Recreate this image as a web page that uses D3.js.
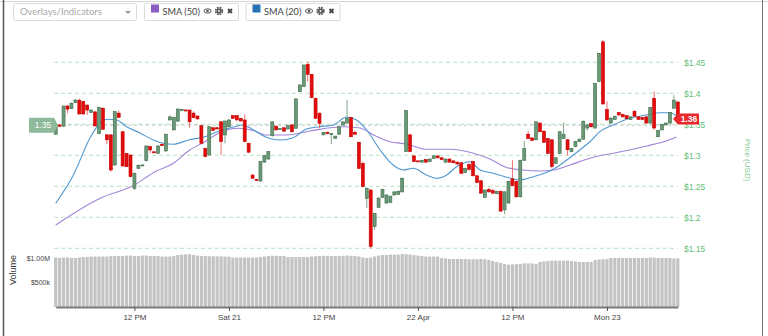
<!DOCTYPE html>
<html><head><meta charset="utf-8">
<script src="https://cdn.jsdelivr.net/npm/d3@7"></script>
<style>
body{margin:0;background:#fff;}
svg{display:block;font-family:"Liberation Sans",Arial,sans-serif;}
</style>
</head><body>
<svg id="chart" width="768" height="336"></svg>
<script>
// ---------- DATA ----------
const firstCandle = new Date(2018, 3, 20, 2, 0);   // 30-minute candles
const lastCandle  = new Date(2018, 3, 23, 9, 0);

const opens = [1.334,1.349,1.347,1.3795,1.3755,1.385,1.389,1.3865,1.381,1.369,1.370,1.335,1.376,1.333,1.333,1.2844,1.368,1.338,1.303,1.3005,
1.2468,1.279,1.283,1.2913,1.314,1.3057,1.3032,1.3178,1.307,1.357,1.341,1.355,1.372,1.3731,1.373,1.368,1.3634,1.3478,1.311,1.3005,
1.3445,1.3445,1.354,1.3328,1.346,1.364,1.364,1.3597,1.357,1.3194,1.268,1.261,1.2586,1.289,1.294,1.3317,1.347,1.342,1.3445,1.3425,
1.349,1.3436,1.4026,1.411,1.4468,1.4307,1.392,1.368,1.333,1.337,1.334,1.3275,1.334,1.3488,1.352,1.361,1.337,1.321,1.287,1.2307,
1.244,1.185,1.216,1.232,1.223,1.224,1.236,1.237,1.241,1.306,1.333,1.299,1.291,1.289,1.293,1.290,1.295,1.299,1.296,1.289,
1.294,1.291,1.289,1.288,1.272,1.285,1.290,1.267,1.259,1.232,1.245,1.243,1.238,1.242,1.212,1.223,1.262,1.258,1.233,1.292,
1.334,1.328,1.325,1.352,1.339,1.327,1.325,1.287,1.303,1.327,1.325,1.306,1.314,1.322,1.326,1.344,1.351,1.344,1.419,1.483,
1.374,1.352,1.358,1.369,1.366,1.364,1.358,1.371,1.362,1.361,1.362,1.352,1.392,1.330,1.341,1.349,1.352,1.376,1.386];
const highs = [1.350,1.350,1.380,1.381,1.385,1.391,1.391,1.388,1.382,1.374,1.371,1.378,1.377,1.334,1.334,1.371,1.372,1.339,1.304,1.301,
1.272,1.285,1.285,1.316,1.315,1.306,1.316,1.319,1.335,1.364,1.362,1.375,1.375,1.374,1.374,1.371,1.364,1.348,1.312,1.347,
1.345,1.345,1.355,1.356,1.358,1.365,1.365,1.360,1.366,1.320,1.270,1.262,1.290,1.3005,1.306,1.355,1.348,1.344,1.345,1.348,
1.350,1.392,1.414,1.446,1.451,1.431,1.393,1.369,1.337,1.338,1.336,1.331,1.346,1.354,1.389,1.362,1.340,1.322,1.290,1.248,
1.245,1.207,1.232,1.246,1.237,1.235,1.242,1.243,1.264,1.373,1.334,1.300,1.292,1.293,1.294,1.295,1.300,1.300,1.297,1.295,
1.295,1.292,1.290,1.289,1.280,1.288,1.291,1.268,1.260,1.245,1.248,1.246,1.243,1.243,1.242,1.259,1.292,1.259,1.293,1.323,
1.339,1.329,1.355,1.353,1.340,1.328,1.326,1.297,1.339,1.353,1.326,1.312,1.323,1.327,1.356,1.350,1.352,1.417,1.465,1.486,
1.387,1.361,1.364,1.370,1.367,1.365,1.363,1.373,1.363,1.362,1.363,1.378,1.403,1.341,1.351,1.353,1.370,1.397,1.387];
const lows = [1.333,1.345,1.346,1.368,1.375,1.384,1.366,1.366,1.365,1.368,1.347,1.334,1.341,1.318,1.2736,1.283,1.360,1.282,1.281,1.265,
1.244,1.278,1.282,1.290,1.3032,1.303,1.302,1.315,1.306,1.356,1.340,1.354,1.371,1.371,1.3445,1.360,1.358,1.319,1.297,1.300,
1.340,1.342,1.3005,1.3194,1.345,1.359,1.356,1.355,1.321,1.304,1.262,1.259,1.257,1.288,1.293,1.330,1.340,1.341,1.338,1.342,
1.337,1.343,1.402,1.410,1.419,1.392,1.359,1.3436,1.332,1.334,1.318,1.327,1.333,1.348,1.351,1.329,1.333,1.278,1.248,1.215,
1.150,1.180,1.215,1.231,1.222,1.223,1.235,1.236,1.240,1.305,1.305,1.289,1.290,1.288,1.288,1.289,1.294,1.295,1.292,1.288,
1.288,1.287,1.285,1.270,1.271,1.276,1.266,1.255,1.238,1.231,1.240,1.238,1.237,1.209,1.205,1.222,1.250,1.232,1.232,1.291,
1.326,1.323,1.324,1.337,1.320,1.302,1.279,1.286,1.302,1.326,1.300,1.305,1.313,1.321,1.325,1.340,1.345,1.343,1.418,1.382,
1.356,1.351,1.357,1.364,1.361,1.358,1.357,1.362,1.357,1.357,1.351,1.351,1.341,1.329,1.340,1.348,1.351,1.375,1.360];
const closes = [1.349,1.347,1.3795,1.3745,1.384,1.389,1.3666,1.3666,1.373,1.373,1.3473,1.3774,1.342,1.325,1.2763,1.3704,1.3613,1.2828,1.2816,1.2655,
1.271,1.284,1.2845,1.315,1.3086,1.3042,1.315,1.3155,1.334,1.362,1.361,1.3747,1.374,1.3715,1.354,1.3607,1.3586,1.3194,1.2978,1.346,
1.3403,1.3425,1.322,1.3553,1.357,1.3597,1.357,1.3553,1.322,1.305,1.263,1.2595,1.2897,1.300,1.306,1.354,1.341,1.343,1.339,1.3478,
1.338,1.391,1.4135,1.4457,1.4307,1.393,1.3597,1.3516,1.337,1.335,1.335,1.331,1.346,1.354,1.3597,1.330,1.334,1.279,1.2494,1.247,
1.153,1.2065,1.231,1.245,1.236,1.234,1.241,1.242,1.263,1.372,1.306,1.2897,1.2905,1.292,1.289,1.294,1.299,1.296,1.293,1.294,
1.289,1.288,1.286,1.271,1.279,1.277,1.267,1.256,1.239,1.244,1.241,1.239,1.242,1.210,1.241,1.258,1.251,1.233,1.292,1.311,
1.327,1.324,1.354,1.338,1.321,1.303,1.282,1.296,1.338,1.334,1.309,1.311,1.322,1.326,1.355,1.349,1.346,1.416,1.4645,1.3828,
1.357,1.360,1.363,1.365,1.362,1.359,1.362,1.363,1.358,1.358,1.352,1.377,1.344,1.340,1.350,1.352,1.369,1.389,1.361];

// volume in millions USD
const volumes = [1.01,1.00,1.01,1.01,1.00,1.00,1.01,
1.02,1.02,1.03,1.03,1.03,1.03,1.03,
1.04,1.04,1.04,1.04,1.05,1.05,1.04,1.04,1.05,1.05,
1.04,1.04,1.04,
1.03,1.03,1.03,1.04,
1.06,1.07,1.075,1.075,
1.06,1.05,
1.04,1.04,1.035,1.035,1.035,1.035,1.03,1.03,
1.01,1.01,1.01,1.01,1.01,1.01,1.01,1.02,1.03,
1.04,1.045,1.045,1.04,1.04,
1.02,1.02,1.02,1.02,1.02,1.02,1.03,1.035,
1.04,1.045,1.045,1.04,1.04,1.04,1.045,1.05,1.045,1.04,1.03,
1.01,1.00,
1.01,1.03,1.05,1.06,1.06,1.07,1.07,1.07,
1.08,1.08,
1.07,1.06,1.05,1.04,1.03,1.03,1.03,1.03,
1.00,0.99,0.98,0.98,0.98,0.98,0.98,0.975,
0.975,0.975,0.98,0.975,
0.96,0.94,0.92,0.90,
0.88,0.865,0.87,0.875,
0.88,0.89,0.89,0.89,0.88,
0.92,0.93,0.94,0.945,0.945,
0.945,0.945,0.945,0.94,
0.93,0.92,0.92,0.92,0.92,
0.96,0.97,0.975,0.98,
1.00,1.00,1.00,1.00,1.00,1.00,1.00,1.00,1.00,1.00,
1.01,1.01,1.00,1.00,1.00,1.00,0.99,0.995];

// SMA lines: candle index -> value
const sma20Idx = [0,4.5,8.7,11.3,13,15.5,18,21.4,24.8,27.3,29.9,33.7,37.9,42.2,45.5,47.4,49.8,53.2,57,60.3,63.7,67.1,70.5,73.9,76.4,79,82.4,85.7,88.3,90.8,94.2,96.8,99.3,101.8,105.2,107.8,111.1,114.5,117.9,121.3,124.7,126.8,129.8,133.1,135.7,138.2,141.6,145.8,150.1,153.5,156,157.7];
const sma20Val = [1.2226,1.2682,1.3279,1.3521,1.3581,1.3570,1.3461,1.3360,1.3247,1.3194,1.3178,1.3247,1.3300,1.3408,1.3461,1.3489,1.3424,1.3300,1.3247,1.3284,1.3424,1.3461,1.3489,1.3618,1.3570,1.3408,1.3086,1.2844,1.2763,1.2790,1.2682,1.2629,1.2682,1.2816,1.2897,1.2763,1.2710,1.2645,1.2602,1.2655,1.2726,1.2790,1.2924,1.3086,1.3219,1.3381,1.3489,1.3597,1.3650,1.3687,1.3687,1.3634];
const sma50Idx = [0,11.3,20,25.2,29.9,33.7,37.9,42.2,46.4,50.6,53.2,58.7,64.6,73,77.3,80.7,84.9,89.1,94.2,100.1,106.1,110.3,114.5,118.8,123,126.4,130.6,135.7,138.2,141.6,150.1,155.2,157.7];
const sma50Val = [1.1876,1.2307,1.2521,1.2736,1.2871,1.3070,1.3220,1.3381,1.3436,1.3392,1.3328,1.3328,1.3392,1.3461,1.3441,1.3328,1.3220,1.3182,1.3097,1.3097,1.3032,1.2940,1.2803,1.2763,1.2747,1.2763,1.2844,1.2952,1.2994,1.3032,1.3150,1.3236,1.3295];

const priceTicks = [1.15,1.2,1.25,1.3,1.35,1.4,1.45];
const priceTickLabels = ["$1.15","$1.2","$1.25","$1.3","$1.35","$1.4","$1.45"];
const timeTicks = [new Date(2018,3,20,12), new Date(2018,3,21,0), new Date(2018,3,21,12), new Date(2018,3,22,0), new Date(2018,3,22,12), new Date(2018,3,23,0)];
const timeTickLabels = ["12 PM","Sat 21","12 PM","22 Apr","12 PM","Mon 23"];
const volTicks = [0.5, 1.0];
const volTickLabels = ["$500k","$1.00M"];
const leftMarkerValue = 1.3485, leftMarkerLabel = "1.35";
const lastPriceLabel = "1.36";
const legendItems = [{name:"SMA (50)", color:"#8a5cc4"},{name:"SMA (20)", color:"#2673b6"}];

// ---------- DRAW ----------
const svg = d3.select("#chart");
const times = opens.map((_, i) => d3.timeMinute.offset(firstCandle, 30 * i));
const x = d3.scaleTime().domain([firstCandle, lastCandle]).range([55.7, 677.8]);
const y = d3.scaleLinear().domain([1.15, 1.45]).range([248.3, 62.3]);
const v = d3.scaleLinear().domain([0, 1]).range([307, 258]);
const xi = idx => x(d3.timeMinute.offset(firstCandle, 30 * idx));

// frame
svg.append("line").attr("x1",0).attr("x2",768).attr("y1",1.5).attr("y2",1.5).attr("stroke","#d4d4d4");
svg.append("line").attr("x1",3.5).attr("x2",3.5).attr("y1",0).attr("y2",336).attr("stroke","#555").attr("stroke-width",1.5);
svg.append("line").attr("x1",762.5).attr("x2",762.5).attr("y1",0).attr("y2",336).attr("stroke","#777");

// volume bars
svg.append("g").selectAll("rect").data(volumes).join("rect")
  .attr("x",(d,i)=>x(times[i])-1.6).attr("width",3.2)
  .attr("y",d=>v(d)).attr("height",d=>v(0)-v(d))
  .attr("fill","#c3c3c3");

// gridlines
svg.append("g").selectAll("line").data(priceTicks).join("line")
  .attr("x1",54).attr("x2",678).attr("y1",d=>y(d)).attr("y2",d=>y(d))
  .attr("stroke","#b4e3c1").attr("stroke-dasharray","4,3");
svg.append("line").attr("x1",56).attr("x2",678).attr("y1",y(leftMarkerValue)).attr("y2",y(leftMarkerValue))
  .attr("stroke","#c9c9c9").attr("stroke-dasharray","3,3");

// right price axis
const ya = svg.append("g").attr("transform","translate(683,0)")
  .call(d3.axisRight(y).tickValues(priceTicks).tickFormat((d,i)=>priceTickLabels[i]).tickSize(0).tickPadding(1));
ya.select(".domain").remove();
ya.selectAll("text").attr("fill","#5fbf78").attr("font-size","8.5px").attr("font-family","Liberation Sans, Arial");
svg.append("text").attr("transform","translate(745,160) rotate(90)").attr("text-anchor","middle")
  .attr("fill","#7fcb93").attr("font-size","8px").text("Price (USD)");

// bottom axis
const xa = svg.append("g").attr("transform","translate(0,307)")
  .call(d3.axisBottom(x).tickValues(timeTicks).tickFormat((d,i)=>timeTickLabels[i]).tickSize(4).tickSizeOuter(0));
xa.select(".domain").attr("stroke","#7a7a7a").attr("stroke-width",2);
xa.selectAll(".tick line").attr("stroke","#555");
xa.selectAll("text").attr("fill","#444").attr("font-size","8px").attr("font-family","Liberation Sans, Arial");

// volume axis
const va = svg.append("g").attr("transform","translate(51,0)")
  .call(d3.axisLeft(v).tickValues(volTicks).tickFormat((d,i)=>volTickLabels[i]).tickSize(0).tickPadding(1));
va.select(".domain").remove();
va.selectAll("text").attr("fill","#444").attr("font-size","7px").attr("font-family","Liberation Sans, Arial");
svg.append("text").attr("transform","translate(16,270) rotate(-90)").attr("text-anchor","middle")
  .attr("fill","#333").attr("font-size","9px").text("Volume");

// SMA lines
const lineGen = d3.line().curve(d3.curveMonotoneX);
svg.append("path").attr("d", lineGen(sma50Idx.map((k,j)=>[xi(k), y(sma50Val[j])])))
  .attr("fill","none").attr("stroke","#a084d8").attr("stroke-width",1.1);
svg.append("path").attr("d", lineGen(sma20Idx.map((k,j)=>[xi(k), y(sma20Val[j])])))
  .attr("fill","none").attr("stroke","#4f98d2").attr("stroke-width",1.1);

// candles
const candles = opens.map((o,i)=>({t:times[i], o, h:highs[i], l:lows[i], c:closes[i]}));
const cg = svg.append("g");
cg.selectAll("line").data(candles).join("line")
  .attr("x1",d=>x(d.t)).attr("x2",d=>x(d.t)).attr("y1",d=>y(d.h)).attr("y2",d=>y(d.l))
  .attr("stroke",d=>d.c>=d.o?"#7fa58a":"#f07070").attr("stroke-width",1);
cg.selectAll("rect").data(candles).join("rect")
  .attr("x",d=>x(d.t)-1.5).attr("width",3)
  .attr("y",d=>y(Math.max(d.o,d.c))).attr("height",d=>Math.max(1,Math.abs(y(d.o)-y(d.c))))
  .attr("fill",d=>d.c>=d.o?"#6b9a78":"#e30b0b")
  .attr("stroke",d=>d.c>=d.o?"#3e6b4b":"#c40000").attr("stroke-width",0.6);

// left marker label
const ly = y(leftMarkerValue);
svg.append("path").attr("d",`M29,${ly-7.5}H54L58,${ly}L54,${ly+7.5}H29Z`).attr("fill","#8eb99a");
svg.append("text").attr("x",43).attr("y",ly+3).attr("text-anchor","middle").attr("fill","#fff")
  .attr("font-size","8.5px").text(leftMarkerLabel);

// last price label
const lp = y(closes[closes.length-1]) + 1.5;
svg.append("path").attr("d",`M673,${lp}L678,${lp-5.5}H699V${lp+5.5}H678Z`).attr("fill","#e8282b");
svg.append("text").attr("x",689).attr("y",lp+3).attr("text-anchor","middle").attr("fill","#fff")
  .attr("font-size","8.5px").attr("font-weight","bold").text(lastPriceLabel);

// toolbar
const tb = svg.append("g").attr("font-family","Lato, 'Open Sans', sans-serif");
tb.append("rect").attr("x",13.5).attr("y",3.5).attr("width",123).attr("height",17).attr("fill","#fff").attr("stroke","#dcdcdc").attr("rx",1);
tb.append("text").attr("x",20).attr("y",15).attr("fill","#a9a9a9").attr("font-size","9.5px").text("Overlays/Indicators");
tb.append("path").attr("d","M125,11L131,11L128,14Z").attr("fill","#999");
legendItems.forEach((it,k)=>{
  const bx = 144 + k*101.5;
  const g = tb.append("g").attr("transform",`translate(${bx},0)`);
  g.append("rect").attr("x",0.5).attr("y",3.5).attr("width",94).attr("height",17).attr("fill","#fff").attr("stroke","#dcdcdc").attr("rx",1);
  g.append("rect").attr("x",7).attr("y",4.5).attr("width",8).attr("height",8).attr("fill",it.color);
  g.append("text").attr("x",18.5).attr("y",14.5).attr("fill","#444").attr("font-size","9.2px").text(it.name);
  // eye
  g.append("ellipse").attr("cx",63.5).attr("cy",11).attr("rx",3.6).attr("ry",2.2).attr("fill","none").attr("stroke","#555").attr("stroke-width",1);
  g.append("circle").attr("cx",63.5).attr("cy",11).attr("r",1.3).attr("fill","#555");
  // gear
  g.append("circle").attr("cx",75).attr("cy",11).attr("r",3.4).attr("fill","none").attr("stroke","#555").attr("stroke-width",1.6).attr("stroke-dasharray","1.8,0.9");
  g.append("circle").attr("cx",75).attr("cy",11).attr("r",2.6).attr("fill","#555");
  g.append("circle").attr("cx",75).attr("cy",11).attr("r",0.9).attr("fill","#fff");
  // close
  g.append("path").attr("d","M84,9L88,13M88,9L84,13").attr("stroke","#444").attr("stroke-width",1.8);
});
</script>
</body></html>
